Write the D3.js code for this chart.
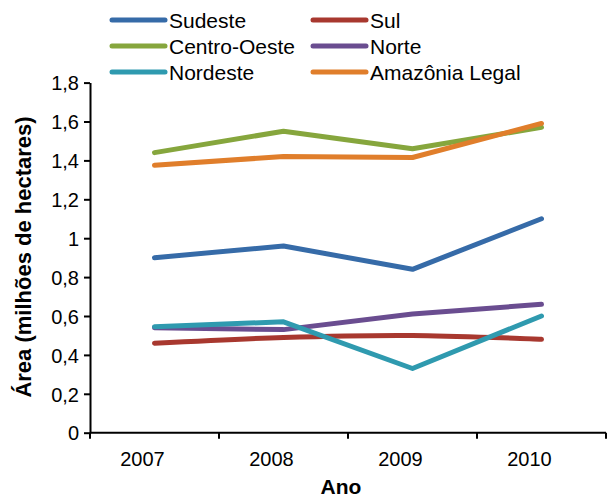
<!DOCTYPE html>
<html>
<head>
<meta charset="utf-8">
<script src="https://cdn.jsdelivr.net/npm/d3@7"></script>
<style>
  body { margin: 0; background: #fff; }
  svg text { font-family: "Liberation Sans", Arial, sans-serif; fill: #000; }
</style>
</head>
<body>
<div id="chart"></div>
<script>
// data
const years = ["2007", "2008", "2009", "2010"];
const yTicks = [0, 0.2, 0.4, 0.6, 0.8, 1, 1.2, 1.4, 1.6, 1.8];

const sudeste = [0.90, 0.96, 0.84, 1.10];
const sul = [0.46, 0.49, 0.50, 0.48];
const centroOeste = [1.44, 1.55, 1.46, 1.57];
const norte = [0.54, 0.53, 0.61, 0.66];
const nordeste = [0.545, 0.57, 0.33, 0.60];
const amazonia = [1.375, 1.42, 1.415, 1.59];

const seriesNames = ["Sudeste", "Sul", "Centro-Oeste", "Norte", "Nordeste", "Amazônia Legal"];
const seriesValues = [sudeste, sul, centroOeste, norte, nordeste, amazonia];
const seriesColors = ["#366BA8", "#A8382F", "#86A63D", "#6A4D90", "#2F9AAF", "#E07E2B"];

window.onload = () => {
    const W = 607, H = 498;
    const plot = {left: 90, right: 606, top: 82.6, bottom: 432.7};

    const svg = d3.select("#chart").append("svg")
        .attr("width", W).attr("height", H);

    const x = d3.scaleBand().domain(years).range([plot.left, plot.right]);
    const y = d3.scaleLinear().domain([0, 1.8]).range([plot.bottom, plot.top]);

    // y axis
    const yAxis = svg.append("g")
        .attr("transform", `translate(${plot.left},0)`)
        .call(d3.axisLeft(y).tickValues(yTicks).tickSize(6).tickSizeOuter(0)
            .tickFormat(d => String(+d.toFixed(1)).replace(".", ",")));
    yAxis.select(".domain").attr("stroke", "#000").attr("stroke-width", 2);
    yAxis.selectAll(".tick line").attr("stroke", "#000").attr("stroke-width", 2);
    yAxis.selectAll(".tick text").attr("x", -11).attr("dy", "0.36em")
        .style("font-size", "20px").attr("fill", "#000");

    // x axis: ticks on band edges, labels inside the bands
    const xAxis = svg.append("g");
    xAxis.append("line")
        .attr("x1", plot.left).attr("x2", plot.right)
        .attr("y1", plot.bottom).attr("y2", plot.bottom)
        .attr("stroke", "#000").attr("stroke-width", 2);
    const edges = years.map(d => x(d)).concat([x(years[years.length - 1]) + x.bandwidth()]);
    xAxis.selectAll(".xtick").data(edges).enter().append("line")
        .attr("x1", d => d).attr("x2", d => d)
        .attr("y1", plot.bottom).attr("y2", plot.bottom + 6)
        .attr("stroke", "#000").attr("stroke-width", 2);
    xAxis.selectAll(".xlabel").data(years).enter().append("text")
        .attr("x", d => x(d) + x.bandwidth() / 2 - 12)
        .attr("y", 466)
        .attr("text-anchor", "middle")
        .style("font-size", "20px")
        .text(d => d);

    // axis titles
    svg.append("text")
        .attr("transform", `translate(31,257) rotate(-90)`)
        .attr("text-anchor", "middle")
        .style("font-size", "22px").style("font-weight", "bold")
        .text("Área (milhões de hectares)");
    svg.append("text")
        .attr("x", 341).attr("y", 494)
        .attr("text-anchor", "middle")
        .style("font-size", "21px").style("font-weight", "bold")
        .text("Ano");

    // lines
    const line = d3.line()
        .x((d, i) => x(years[i]) + x.bandwidth() / 2)
        .y(d => y(d));

    seriesValues.forEach((vals, k) => {
        svg.append("path")
            .datum(vals)
            .attr("fill", "none")
            .attr("stroke", seriesColors[k])
            .attr("stroke-width", 5)
            .attr("stroke-linecap", "round")
            .attr("stroke-linejoin", "round")
            .attr("d", seriesNames[k] === "Sul" ? line.curve(d3.curveCatmullRom)(vals) : line.curve(d3.curveLinear)(vals));
    });

    // legend, two columns
    const legend = svg.append("g");
    seriesNames.forEach((name, k) => {
        const col = k % 2, row = Math.floor(k / 2);
        const lx = col === 0 ? 112 : 313;
        const ly = 20 + row * 26;
        legend.append("line")
            .attr("x1", lx).attr("x2", lx + 53)
            .attr("y1", ly).attr("y2", ly)
            .attr("stroke", seriesColors[k]).attr("stroke-width", 5)
            .attr("stroke-linecap", "round");
        legend.append("text")
            .attr("x", lx + 57).attr("y", ly)
            .attr("dy", "0.36em")
            .style("font-size", "21px")
            .text(name);
    });
};
</script>
</body>
</html>
